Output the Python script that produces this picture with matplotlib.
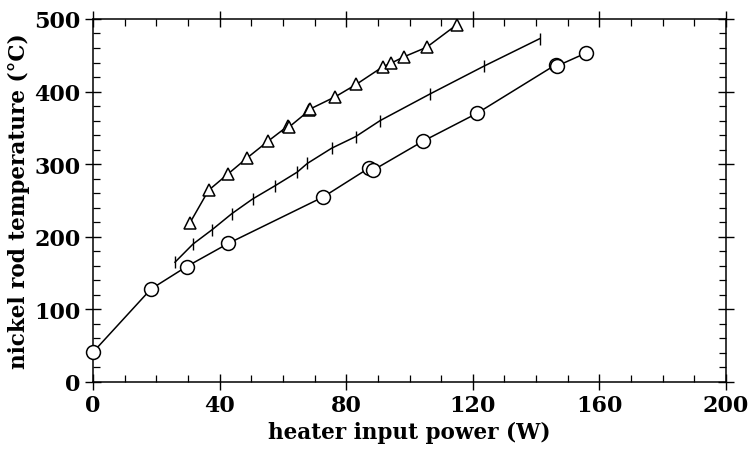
import matplotlib
matplotlib.use("Agg")
import matplotlib.pyplot as plt
from matplotlib.ticker import MultipleLocator

# triangles
tri_x = [30.6, 36.5, 42.5, 48.8, 55.4, 61.7, 61.9, 68.3, 68.6, 76.6, 83.2, 91.5, 94.1, 98.3, 105.4, 114.9]
tri_y = [219, 264, 286, 309, 332, 353, 351, 374, 376, 393, 410, 434, 439, 448, 461, 492]

# tick-marked series
bar_x = [25.9, 31.6, 37.7, 43.9, 50.4, 57.4, 64.5, 67.7, 75.4, 83.0, 90.7, 106.6, 123.5, 141.2]
bar_y = [165, 190, 210, 232, 252, 270, 289, 301, 322, 338, 360, 397, 435, 473]

# circles
circ_x = [0, 18.3, 29.6, 42.8, 72.8, 87.3, 88.6, 104.4, 121.3, 146.2, 146.5, 155.7]
circ_y = [41, 128, 159, 191, 255, 295, 292, 332, 370, 437, 435, 453]

x_ticks = [0, 40, 80, 120, 160, 200]
y_ticks = [0, 100, 200, 300, 400, 500]

plt.rcParams['font.family'] = ['DejaVu Serif']

fig = plt.figure(figsize=(7.49, 4.52), dpi=100)
ax = fig.add_axes([0.1242, 0.1527, 0.8451, 0.8031])

ax.plot(tri_x, tri_y, color='black', lw=1.1, marker='^', ms=8.5,
        mfc='white', mec='black', mew=1.1)
ax.plot(bar_x, bar_y, color='black', lw=1.1, marker='|', ms=8, mew=1.0)
ax.plot(circ_x, circ_y, color='black', lw=1.1, marker='o', ms=10,
        mfc='white', mec='black', mew=1.1, clip_on=False, zorder=5)

ax.set_xlim(0, 200)
ax.set_ylim(0, 500)
ax.set_xticks(x_ticks)
ax.set_yticks(y_ticks)
ax.xaxis.set_minor_locator(MultipleLocator(10))
ax.yaxis.set_minor_locator(MultipleLocator(20))
ax.tick_params(which='major', direction='inout', length=12, width=1.0,
               top=True, right=True, labelsize=16, pad=3)
ax.tick_params(which='minor', direction='in', length=5, width=0.9,
               top=True, right=True)
for lab in ax.get_xticklabels() + ax.get_yticklabels():
    lab.set_fontweight('bold')
for s in ax.spines.values():
    s.set_linewidth(1.1)

ax.set_xlabel('heater input power (W)', fontsize=15.5, fontweight='bold', labelpad=3)
ax.set_ylabel('nickel rod temperature (°C)', fontsize=15.5, fontweight='bold', labelpad=3)

fig.savefig('out.png', dpi=100, facecolor='white')
